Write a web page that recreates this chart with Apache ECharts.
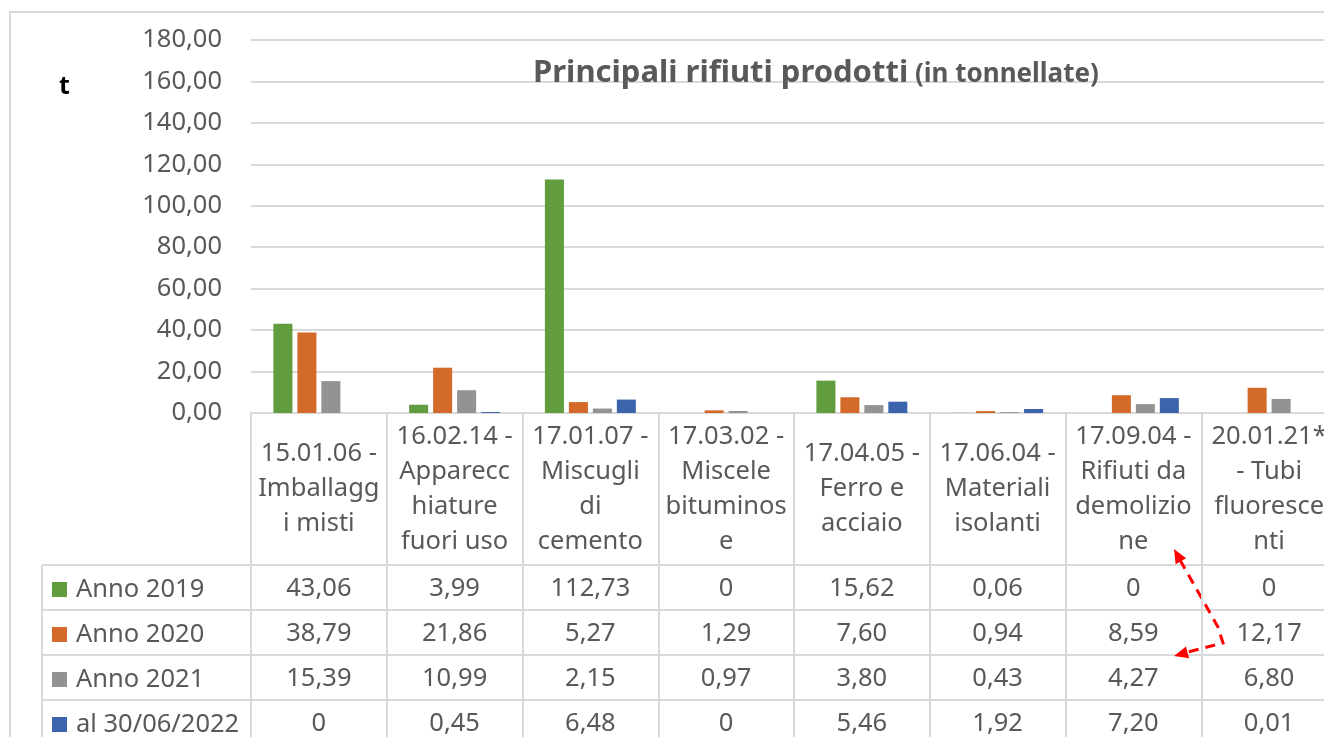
<!DOCTYPE html>
<html>
<head>
<meta charset="utf-8">
<title>Principali rifiuti prodotti</title>
<script src="https://cdn.jsdelivr.net/npm/echarts@6/dist/echarts.min.js"></script>
<style>
html, body { margin: 0; padding: 0; background: #fff; }
#main { width: 1324px; height: 737px; }
</style>
</head>
<body>
<div id="main"></div>
<script>
// categories as wrapped in the original data table
var categories = [
    '15.01.06 -\nImballagg\ni misti',
    '16.02.14 -\nApparecc\nhiature\nfuori uso',
    '17.01.07 -\nMiscugli\ndi\ncemento',
    '17.03.02 -\nMiscele\nbituminos\ne',
    '17.04.05 -\nFerro e\nacciaio',
    '17.06.04 -\nMateriali\nisolanti',
    '17.09.04 -\nRifiuti da\ndemolizio\nne',
    '20.01.21*\n- Tubi\nfluoresce\nnti'
];
var seriesNames = ['Anno 2019', 'Anno 2020', 'Anno 2021', 'al 30/06/2022'];
var anno2019 = [43.06, 3.99, 112.73, 0, 15.62, 0.06, 0, 0];
var anno2020 = [38.79, 21.86, 5.27, 1.29, 7.60, 0.94, 8.59, 12.17];
var anno2021 = [15.39, 10.99, 2.15, 0.97, 3.80, 0.43, 4.27, 6.80];
var al2022 = [0, 0.45, 6.48, 0, 5.46, 1.92, 7.20, 0.01];
var yMin = 0, yMax = 180, yStep = 20;

var values = [anno2019, anno2020, anno2021, al2022];
var colors = ['#619c3e', '#d46a2a', '#939393', '#3b64ad'];
var font = 'Noto Sans';
var txt = '#595959';
var line = '#d9d9d9';

function fmt(v) {
    if (v === 0) return '0';
    return v.toFixed(2).replace('.', ',');
}

// layout of the plot + table
var gridLeft = 251, gridTop = 40, gridW = 1086, gridH = 373;
var tableTop = gridTop + gridH;
var headH = 152, rowH = 45;

var chart = echarts.init(document.getElementById('main'));

var xAxes = [{
    type: 'category',
    data: categories,
    position: 'bottom',
    axisLine: { show: true, lineStyle: { color: line, width: 2 } },
    axisTick: { show: true, length: 340, lineStyle: { color: line, width: 2 } },
    axisLabel: {
        interval: 0,
        hideOverlap: false,
        margin: headH / 2,
        verticalAlign: 'middle',
        lineHeight: 35,
        fontFamily: font,
        fontSize: 25.5,
        color: txt
    }
}];
values.forEach(function (arr, i) {
    xAxes.push({
        type: 'category',
        data: categories,
        position: 'bottom',
        offset: headH + rowH * i + rowH / 2 + 1,
        axisLine: { show: false },
        axisTick: { show: false },
        axisLabel: {
            interval: 0,
            hideOverlap: false,
            margin: 0,
            verticalAlign: 'middle',
            fontFamily: font,
            fontSize: 25.5,
            color: txt,
            formatter: function (v, idx) { return fmt(arr[idx]); }
        }
    });
});

var series = values.map(function (arr, i) {
    return {
        name: seriesNames[i],
        type: 'bar',
        xAxisIndex: 0,
        barGap: '26%',
        barCategoryGap: '33%',
        itemStyle: { color: colors[i] },
        data: arr
    };
});

// one legend key per table row
var legends = seriesNames.map(function (name, i) {
    return {
        left: 52,
        top: tableTop + headH + rowH * i + rowH / 2 - 11,
        padding: 0,
        itemWidth: 15,
        itemHeight: 15,
        icon: 'rect',
        selectedMode: false,
        textStyle: { fontFamily: font, fontSize: 25.5, color: txt, lineHeight: 26, padding: [0, 0, 0, 4] },
        data: [name]
    };
});

// table borders (legend column + row separators)
var tableLines = [];
for (var r = 0; r < 4; r++) {
    var y = tableTop + headH + rowH * r;
    tableLines.push({
        type: 'line',
        shape: { x1: 42, y1: y, x2: 1340, y2: y },
        style: { stroke: line, lineWidth: 2 }
    });
}
tableLines.push({
    type: 'line',
    shape: { x1: 42, y1: tableTop + headH, x2: 42, y2: 760 },
    style: { stroke: line, lineWidth: 2 }
});
// chart area border
tableLines.push({
    type: 'polyline',
    shape: { points: [[10, 760], [10, 12], [1340, 12]] },
    style: { stroke: line, lineWidth: 2, fill: null }
});

// red dashed connector annotation
function head(tip, from, len, half) {
    var dx = tip[0] - from[0], dy = tip[1] - from[1];
    var d = Math.sqrt(dx * dx + dy * dy);
    dx /= d; dy /= d;
    var bx = tip[0] - dx * len, by = tip[1] - dy * len;
    return {
        type: 'polygon',
        shape: { points: [tip, [bx - dy * half, by + dx * half], [bx + dy * half, by - dx * half]] },
        style: { fill: '#ff0000' }
    };
}
var arrowPts = [[1180, 560], [1218, 627], [1223, 643], [1184, 653]];
tableLines.push({
    type: 'polyline',
    shape: { points: arrowPts },
    style: { stroke: '#ff0000', lineWidth: 3, lineDash: [10, 7], fill: null }
});
tableLines.push(head([1174, 549], [1218, 627], 14, 6));
tableLines.push(head([1174, 656], [1223, 643], 14, 6));

var option = {
    backgroundColor: '#fff',
    animation: false,
    title: [{
        text: 'Principali rifiuti prodotti',
        left: 533, top: 58, padding: 0,
        textStyle: { fontFamily: font, fontSize: 31, fontWeight: 'bold', color: txt }
    }, {
        text: '(in tonnellate)',
        left: 915, top: 62, padding: 0,
        textStyle: { fontFamily: font, fontSize: 26, fontWeight: 'bold', color: txt }
    }, {
        text: 't',
        left: 59, top: 74, padding: 0,
        textStyle: { fontFamily: font, fontSize: 25, fontWeight: 'bold', color: '#000' }
    }],
    legend: legends,
    grid: { left: gridLeft, top: gridTop, width: gridW, height: gridH, containLabel: false, outerBoundsMode: 'none' },
    xAxis: xAxes,
    yAxis: {
        type: 'value',
        min: yMin, max: yMax, interval: yStep,
        axisLine: { show: false },
        axisTick: { show: false },
        splitLine: { lineStyle: { color: line, width: 2 } },
        axisLabel: {
            margin: 29,
            fontFamily: font,
            fontSize: 25.5,
            color: txt,
            formatter: function (v) { return v.toFixed(2).replace('.', ','); }
        }
    },
    graphic: tableLines,
    series: series
};
chart.setOption(option);
window.addEventListener('resize', function () {
    chart.resize();
});
</script>
</body>
</html>
